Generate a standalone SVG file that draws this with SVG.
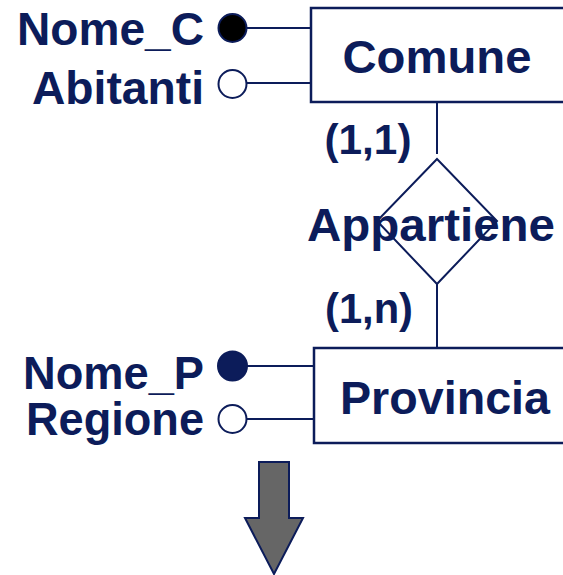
<svg xmlns="http://www.w3.org/2000/svg" width="563" height="575" viewBox="0 0 563 575">
  <style>
    .lbl { font-family: "Liberation Sans", Arial, sans-serif; font-weight: bold; font-size: 46px; fill: #0c1c5a; }
    .card { font-size: 43px; }
    .box { fill: #ffffff; stroke: #0c1c5a; stroke-width: 2.5; }
    .edge { stroke: #0c1c5a; stroke-width: 2; fill: none; }
    .key { fill: #0c1c5a; stroke: #0c1c5a; stroke-width: 2; }
    .opt { fill: #ffffff; stroke: #0c1c5a; stroke-width: 2; }
  </style>
  <rect width="563" height="575" fill="#ffffff"/>

  <!-- connectors -->
  <g id="connectors">
    <line class="edge" x1="247" y1="28" x2="311" y2="28"/>
    <line class="edge" x1="247" y1="83" x2="311" y2="83"/>
    <line class="edge" x1="247" y1="366" x2="314" y2="366"/>
    <line class="edge" x1="247" y1="419" x2="314" y2="419"/>
    <line class="edge" x1="437" y1="102" x2="437" y2="154"/>
    <line class="edge" x1="437" y1="284" x2="437" y2="348"/>
  </g>

  <!-- entity Comune -->
  <g id="comune">
    <rect class="box" x="311" y="8" width="270" height="94"/>
    <text class="lbl" x="437" y="73" text-anchor="middle" textLength="189" lengthAdjust="spacingAndGlyphs">Comune</text>
  </g>

  <!-- attributes of Comune -->
  <g id="attr-nome-c">
    <circle cx="232.5" cy="28" r="14" fill="#000000" stroke="#0c1c5a" stroke-width="2"/>
    <text class="lbl" x="204" y="45" text-anchor="end" textLength="187" lengthAdjust="spacingAndGlyphs">Nome_C</text>
  </g>
  <g id="attr-abitanti">
    <circle class="opt" cx="232.5" cy="84" r="14"/>
    <text class="lbl" x="204" y="104" text-anchor="end" textLength="172" lengthAdjust="spacingAndGlyphs">Abitanti</text>
  </g>

  <!-- relationship Appartiene -->
  <g id="appartiene">
    <polygon class="box" style="stroke-width:2" points="437,159 497,221 437,284 377,221"/>
    <text class="lbl" x="431" y="241" text-anchor="middle" textLength="248" lengthAdjust="spacingAndGlyphs">Appartiene</text>
  </g>

  <!-- cardinalities -->
  <g id="card-comune">
    <text class="lbl card" x="368" y="154" text-anchor="middle" textLength="87" lengthAdjust="spacingAndGlyphs">(1,1)</text>
  </g>
  <g id="card-provincia">
    <text class="lbl card" x="369" y="323" text-anchor="middle" textLength="88" lengthAdjust="spacingAndGlyphs">(1,n)</text>
  </g>

  <!-- entity Provincia -->
  <g id="provincia">
    <rect class="box" x="314" y="348" width="270" height="95"/>
    <text class="lbl" x="445" y="414" text-anchor="middle" textLength="210" lengthAdjust="spacingAndGlyphs">Provincia</text>
  </g>

  <!-- attributes of Provincia -->
  <g id="attr-nome-p">
    <circle class="key" cx="232.5" cy="366" r="14.5"/>
    <text class="lbl" x="204" y="389" text-anchor="end" textLength="181" lengthAdjust="spacingAndGlyphs">Nome_P</text>
  </g>
  <g id="attr-regione">
    <circle class="opt" cx="232.5" cy="419" r="14"/>
    <text class="lbl" x="204" y="435" text-anchor="end" textLength="178" lengthAdjust="spacingAndGlyphs">Regione</text>
  </g>

  <!-- block arrow pointing down -->
  <g id="arrow-down">
    <polygon points="259,462 289,462 289,518 303,518 274,574 245,518 259,518" fill="#666666" stroke="#0c1c5a" stroke-width="2" stroke-linejoin="miter"/>
  </g>
</svg>
